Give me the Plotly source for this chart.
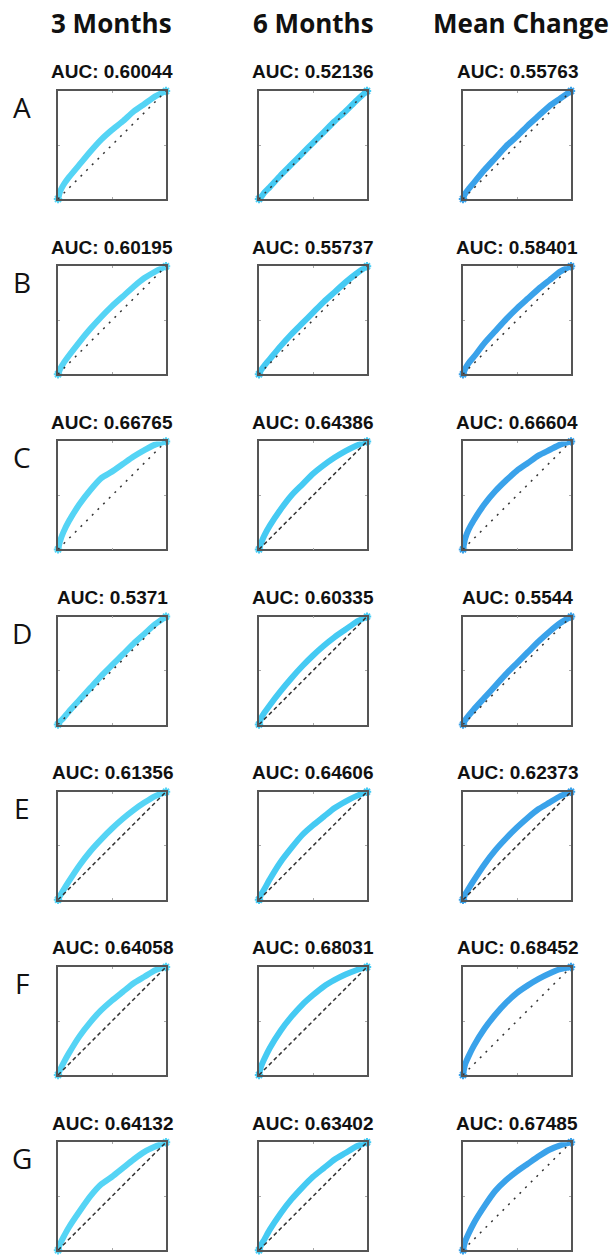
import plotly.graph_objects as go

# ---- data ----
col_titles = ["3 Months", "6 Months", "Mean Change"]
row_labels = ["A", "B", "C", "D", "E", "F", "G"]
auc = [
    ["0.60044", "0.52136", "0.55763"],
    ["0.60195", "0.55737", "0.58401"],
    ["0.66765", "0.64386", "0.66604"],
    ["0.5371", "0.60335", "0.5544"],
    ["0.61356", "0.64606", "0.62373"],
    ["0.64058", "0.68031", "0.68452"],
    ["0.64132", "0.63402", "0.67485"],
]
fpr = [0, 0.02, 0.05, 0.1, 0.2, 0.3, 0.4, 0.5, 0.6, 0.7, 0.8, 0.9, 1.0]
tpr = [
    [[0, 0.07, 0.13, 0.20, 0.32, 0.44, 0.55, 0.64, 0.72, 0.81, 0.88, 0.95, 1],
     [0, 0.02, 0.06, 0.11, 0.22, 0.32, 0.42, 0.52, 0.62, 0.72, 0.81, 0.91, 1],
     [0, 0.05, 0.09, 0.15, 0.27, 0.38, 0.49, 0.58, 0.68, 0.77, 0.86, 0.93, 1]],
    [[0, 0.05, 0.10, 0.17, 0.30, 0.42, 0.53, 0.63, 0.72, 0.81, 0.89, 0.95, 1],
     [0, 0.04, 0.08, 0.14, 0.26, 0.37, 0.47, 0.57, 0.67, 0.76, 0.85, 0.93, 1],
     [0, 0.05, 0.10, 0.16, 0.29, 0.40, 0.51, 0.61, 0.70, 0.79, 0.87, 0.95, 1]],
    [[0, 0.08, 0.16, 0.26, 0.42, 0.55, 0.66, 0.72, 0.79, 0.86, 0.92, 0.97, 1],
     [0, 0.06, 0.13, 0.22, 0.37, 0.50, 0.60, 0.70, 0.78, 0.85, 0.91, 0.96, 1],
     [0, 0.10, 0.18, 0.27, 0.42, 0.54, 0.64, 0.73, 0.80, 0.87, 0.92, 0.97, 1]],
    [[0, 0.03, 0.06, 0.12, 0.23, 0.34, 0.45, 0.55, 0.65, 0.75, 0.84, 0.93, 1],
     [0, 0.06, 0.11, 0.18, 0.31, 0.43, 0.54, 0.64, 0.73, 0.81, 0.88, 0.95, 1],
     [0, 0.04, 0.08, 0.14, 0.25, 0.36, 0.47, 0.57, 0.67, 0.77, 0.86, 0.94, 1]],
    [[0, 0.04, 0.09, 0.17, 0.32, 0.45, 0.56, 0.66, 0.75, 0.83, 0.90, 0.96, 1],
     [0, 0.05, 0.10, 0.19, 0.35, 0.48, 0.60, 0.69, 0.77, 0.85, 0.91, 0.96, 1],
     [0, 0.05, 0.10, 0.18, 0.33, 0.46, 0.57, 0.67, 0.76, 0.84, 0.90, 0.96, 1]],
    [[0, 0.05, 0.11, 0.20, 0.36, 0.49, 0.60, 0.69, 0.77, 0.85, 0.91, 0.97, 1],
     [0, 0.08, 0.15, 0.25, 0.41, 0.54, 0.65, 0.74, 0.82, 0.88, 0.93, 0.97, 1],
     [0, 0.10, 0.17, 0.27, 0.43, 0.56, 0.67, 0.76, 0.83, 0.89, 0.94, 0.98, 1]],
    [[0, 0.06, 0.12, 0.21, 0.36, 0.50, 0.61, 0.68, 0.76, 0.84, 0.91, 0.96, 1],
     [0, 0.05, 0.10, 0.19, 0.34, 0.47, 0.58, 0.68, 0.76, 0.84, 0.90, 0.96, 1],
     [0, 0.08, 0.15, 0.25, 0.41, 0.55, 0.65, 0.73, 0.80, 0.87, 0.93, 0.97, 1]],
]
diag_style = [
    ["dot", "dot", "dot"],
    ["dot", "dot", "dot"],
    ["dot", "dash", "dot"],
    ["dot", "dash", "dot"],
    ["dash", "dash", "dash"],
    ["dash", "dash", "dot"],
    ["dash", "dash", "dot"],
]
dash_patterns = {"dot": "2px,6px", "dash": "4px,3px"}
curve_colors = ["#55d4f5", "#45caf3", "#3aa2ea"]

# ---- layout geometry (pixels) ----
W, H = 611, 1255
col_left = [58, 259, 463]
box_w = 108
row_top0 = 91
row_step = 175.2
box_h = 108

fig = go.Figure()
layout = dict(
    width=W, height=H, margin=dict(l=0, r=0, t=0, b=0),
    paper_bgcolor="white", plot_bgcolor="white", showlegend=False,
)
annotations = []

k = 0
for r in range(7):
    top = row_top0 + r * row_step
    for c in range(3):
        k += 1
        xa = "x" if k == 1 else f"x{k}"
        ya = "y" if k == 1 else f"y{k}"
        xkey = "xaxis" if k == 1 else f"xaxis{k}"
        ykey = "yaxis" if k == 1 else f"yaxis{k}"
        x0 = col_left[c] / W
        x1 = (col_left[c] + box_w) / W
        y1 = 1 - top / H
        y0 = 1 - (top + box_h) / H
        axis_common = dict(range=[0, 1], showgrid=False, zeroline=False,
                           showline=True, linecolor="#555555", linewidth=1.5,
                           mirror="ticks", ticks="inside", ticklen=2,
                           tickcolor="#aaaaaa", tickvals=[0.5],
                           showticklabels=False, fixedrange=True)
        layout[xkey] = dict(domain=[x0, x1], anchor=ya, **axis_common)
        layout[ykey] = dict(domain=[y0, y1], anchor=xa, **axis_common)

        fig.add_trace(go.Scatter(x=fpr, y=tpr[r][c], mode="lines",
                                 line=dict(color=curve_colors[c], width=6,
                                           shape="spline", smoothing=0.6),
                                 xaxis=xa, yaxis=ya))
        fig.add_trace(go.Scatter(x=[fpr[0], fpr[-1]], y=[tpr[r][c][0], tpr[r][c][-1]],
                                 mode="markers", cliponaxis=False,
                                 marker=dict(color=curve_colors[c], size=7,
                                             symbol="asterisk-open",
                                             line=dict(width=2, color=curve_colors[c])),
                                 xaxis=xa, yaxis=ya))
        fig.add_trace(go.Scatter(x=[0, 1], y=[0, 1], mode="lines",
                                 line=dict(color="#333333", width=1.5,
                                           dash=dash_patterns[diag_style[r][c]]),
                                 xaxis=xa, yaxis=ya))

        annotations.append(dict(
            text=f"<b>AUC: {auc[r][c]}</b>", x=(x0 + x1) / 2, y=1 - (top - 19) / H,
            xref="paper", yref="paper", showarrow=False, xanchor="center",
            yanchor="middle", font=dict(family="Liberation Sans, Arial", size=19,
                                        color="#111111")))
    annotations.append(dict(
        text=row_labels[r], x=22 / W, y=1 - (top + 16) / H, xref="paper",
        yref="paper", showarrow=False, xanchor="center", yanchor="middle",
        font=dict(family="Open Sans", size=28, color="#111111")))

col_centers = [111, 313, 521]
for c in range(3):
    annotations.append(dict(
        text=f"<b>{col_titles[c]}</b>", x=col_centers[c] / W, y=1 - 23 / H,
        xref="paper", yref="paper", showarrow=False, xanchor="center",
        yanchor="middle", font=dict(family="Open Sans", size=26, color="#111111")))

layout["annotations"] = annotations
fig.update_layout(**layout)
fig.write_html("out.html", config={"displayModeBar": False},
               post_script="document.body.style.margin='0';document.body.style.padding='0';")
